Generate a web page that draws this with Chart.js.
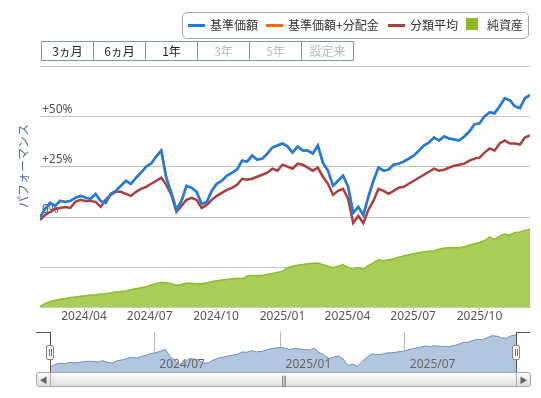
<!DOCTYPE html>
<html lang="ja">
<head>
  <meta charset="UTF-8" />
  <title>パフォーマンス</title>
  <script src="https://cdn.jsdelivr.net/npm/chart.js@4.4.1/dist/chart.umd.min.js"></script>
  <style>
    body { margin:0; background:#fff; width:541px; height:398px; overflow:hidden; position:relative;
           font-family:"Noto Sans CJK JP","Noto Sans",sans-serif; }
    canvas { position:absolute; left:0; }
    #main { top:0; }
    #nav { top:332px; }
    .legend { position:absolute; left:182px; top:12px; width:345px; height:25px; border:1px solid #a8a8a8; border-radius:5px; }
    .lg { position:absolute; top:18px; font-size:12px; line-height:14px; color:#333; white-space:nowrap; }
    .sym { position:absolute; top:24px; width:17px; height:2.5px; }
    .btns { position:absolute; left:41px; top:41px; display:flex; }
    .btns div { width:51px; height:18px; line-height:18px; border:1px solid #8494b0; border-left:none; text-align:center;
                font-size:12px; color:#222; background:#fff; }
    .btns div:first-child { border-left:1px solid #8494b0; }
    .btns div.off { color:#bbb; }
    .ln { position:absolute; background:#555; }
    .handle { position:absolute; top:345px; width:6px; height:13px; border:1px solid #888; border-radius:2px; background:#f4f4f4; }
    .handle i { position:absolute; top:3px; width:1px; height:7px; background:#777; }
    .sb { position:absolute; top:372px; height:13px; border:1px solid #aaa; background:linear-gradient(#fdfdfd,#dedede); }
    .sb span { position:absolute; top:0; width:100%; text-align:center; font-size:8px; line-height:13px; color:#666; }
  </style>
</head>
<body>
  <canvas id="main" width="541" height="330"></canvas>
  <canvas id="nav" width="541" height="40"></canvas>

  <div class="legend"></div>
  <div class="sym" style="left:188px;background:#1580ec"></div><div class="lg" style="left:210px">基準価額</div>
  <div class="sym" style="left:266px;background:#ff6a00"></div><div class="lg" style="left:288px">基準価額+分配金</div>
  <div class="sym" style="left:388px;background:#a8403e"></div><div class="lg" style="left:410px">分類平均</div>
  <div style="position:absolute;left:466px;top:18px;width:12px;height:12px;background:#8cb922"></div><div class="lg" style="left:487px">純資産</div>

  <div class="btns">
    <div>3ヵ月</div><div>6ヵ月</div><div>1年</div><div class="off">3年</div><div class="off">5年</div><div class="off">設定来</div>
  </div>

  <div class="ln" style="left:36px;top:332px;width:15px;height:1px"></div>
  <div class="ln" style="left:50px;top:332px;width:1px;height:40px"></div>
  <div class="ln" style="left:516px;top:332px;width:14px;height:1px"></div>
  <div class="ln" style="left:516px;top:332px;width:1px;height:40px"></div>
  <div class="handle" style="left:46px"><i style="left:2px"></i><i style="left:4px"></i></div>
  <div class="handle" style="left:512px"><i style="left:2px"></i><i style="left:4px"></i></div>

  <div class="sb" style="left:36px;width:13px;border-radius:3px 0 0 3px"><span>◀</span></div>
  <div class="sb" style="left:50px;width:465px"><span style="font-size:10px;letter-spacing:-1px">|||</span></div>
  <div class="sb" style="left:516px;width:13px;border-radius:0 3px 3px 0"><span>▶</span></div>

  <script>
    // weekly closes from 2024/01/31, % change vs start
    const startDate = Date.UTC(2024, 0, 31);
    const stepDays = 7;
    const lastDay = 679;

    const nav = [0, 4, 7, 5.5, 8, 7.5, 8, 9.5, 10.5, 9.6,
      9, 11.5, 8, 7, 11.5, 13, 15.5, 18, 16.5, 19.5,
      22, 25, 26.5, 30, 33, 19.5, 12, 3.5, 8, 15.5,
      14.5, 12.5, 6.5, 7.5, 13, 16.5, 18, 20.5, 22, 23.5,
      28, 27.5, 30.5, 28.5, 29, 31.5, 34.5, 35.5, 36.5, 35,
      32, 35, 33, 33, 31.5, 35.5, 27, 23, 15.5, 18,
      20.5, 15, 2, 5, 1, 10, 18, 24.5, 23, 23.5,
      26, 26.5, 27.5, 29, 30.5, 33, 35.5, 37, 39.5, 38,
      40, 39, 38.5, 38, 40, 42.5, 46, 46.5, 50, 52,
      51.5, 55, 59, 58, 55, 54, 59, 60.5];

    // no distributions paid, so same as nav
    const navWithDist = nav;

    const categoryAvg = [-1.5, 1, 2.5, 4, 4.5, 5, 4.5, 7.5, 8.5, 8,
      8, 7.5, 5, 8.5, 11, 12.5, 12.5, 11.5, 10.5, 12.5,
      14, 15, 16.5, 18, 19.5, 16, 11, 2.5, 5.5, 8.5,
      9.5, 8.5, 4.5, 6, 8.5, 10.5, 12, 13.5, 14.5, 16,
      19, 18.5, 19, 20, 21, 22, 24, 23, 26, 25,
      24, 26.5, 26, 24.5, 23, 24.5, 20, 16.5, 11, 13,
      14, 9, -3, 0.5, -3, 3.5, 8, 14, 13, 11.5,
      13, 14.5, 15, 16.5, 18, 19.5, 21, 22.5, 24, 23,
      23.5, 24.5, 25.5, 26, 26.5, 28, 29, 29.5, 32, 34,
      33, 36.5, 38, 36.5, 36.5, 36, 39.5, 40.5];

    // 億円
    const netAssets = [0.5, 2, 3, 3.7, 4.1, 4.5, 5, 5.3, 5.6, 5.9,
      6.2, 6.4, 6.7, 6.9, 7.3, 7.7, 8, 8.3, 8.9, 9.4,
      9.9, 10.4, 11.3, 12, 12.5, 12.3, 11.8, 11.1, 11.5, 12.2,
      12.1, 11.9, 11.9, 12.3, 12.8, 13.3, 13.7, 14, 14.3, 14.6,
      14.3, 15.7, 16, 16, 16, 16.5, 17, 17.5, 18, 19.8,
      20.5, 21, 21.4, 21.8, 22, 22.1, 21.3, 20.5, 19.8, 20.5,
      21.3, 20, 19, 20, 19, 20.8, 22.3, 23.8, 23.3, 23.8,
      24.3, 25, 25.7, 26.3, 26.8, 27.3, 27.7, 28, 28.3, 29,
      29.6, 29.7, 29.7, 29.7, 30.3, 31, 31.7, 32.3, 33.3, 35,
      33.9, 35.5, 36.6, 36.1, 37.3, 37.6, 38.3, 38.9];

    const xTickLabels = ['2024/04', '2024/07', '2024/10', '2025/01', '2025/04', '2025/07', '2025/10'];
    const navTickLabels = ['2024/07', '2025/01', '2025/07'];
    const yTicks = [-25, 0, 25, 50, 75];
    const yTickLabels = ['', '0%', '+25%', '+50%', ''];

    function dayOf(label) {
      const [y, m] = label.split('/').map(Number);
      return (Date.UTC(y, m - 1, 1) - startDate) / 86400000;
    }
    const pts = arr => arr.map((v, i) => ({ x: i * stepDays, y: v }));

    const yTitle = {
      id: 'yTitle',
      afterDraw(chart) {
        const c = chart.ctx;
        c.save();
        c.translate(23, 166);
        c.rotate(-Math.PI / 2);
        c.font = '12px "Noto Sans CJK JP"';
        c.fillStyle = '#4d6c9e';
        c.textAlign = 'center';
        c.textBaseline = 'middle';
        c.fillText('パフォーマンス', 0, 0);
        c.restore();
      }
    };

    new Chart(document.getElementById('main'), {
      type: 'line',
      data: {
        datasets: [
          { label: '基準価額', data: pts(nav), borderColor: '#1580ec', borderWidth: 2.5, pointRadius: 0, order: 1, yAxisID: 'y' },
          { label: '基準価額+分配金', data: pts(navWithDist), borderColor: '#ff6a00', borderWidth: 2.5, pointRadius: 0, order: 2, yAxisID: 'y' },
          { label: '分類平均', data: pts(categoryAvg), borderColor: '#a8403e', borderWidth: 2.5, pointRadius: 0, order: 3, yAxisID: 'y' },
          { label: '純資産', data: pts(netAssets), borderColor: '#8dbd2d', backgroundColor: '#a9cd57', borderWidth: 1.5,
            pointRadius: 0, fill: 'start', order: 4, yAxisID: 'y2' }
        ]
      },
      options: {
        responsive: false,
        animation: false,
        devicePixelRatio: 1,
        layout: { padding: { left: 36, right: 11, top: 66, bottom: 8 } },
        plugins: { legend: { display: false }, tooltip: { enabled: false } },
        scales: {
          x: {
            type: 'linear', min: 0, max: lastDay,
            afterBuildTicks: s => { s.ticks = xTickLabels.map(l => ({ value: dayOf(l) })); },
            ticks: { callback: (v, i) => xTickLabels[i], autoSkip: false, maxRotation: 0, padding: -2,
                     color: '#555', font: { family: 'Noto Sans', size: 12 } },
            grid: { drawOnChartArea: false, tickLength: 4, color: '#c0d0e0' },
            border: { color: '#c0d0e0' }
          },
          y: {
            min: -45, max: 75,
            afterBuildTicks: s => { s.ticks = yTicks.map(v => ({ value: v })); },
            ticks: { mirror: true, padding: 2, labelOffset: -7, callback: (v, i) => yTickLabels[i],
                     color: '#555', font: { family: 'Noto Sans', size: 12 } },
            grid: { color: '#c4c4c4', drawTicks: false },
            border: { display: false }
          },
          y2: { display: false, min: 0, max: 120 }
        }
      },
      plugins: [yTitle]
    });

    const navLabels = {
      id: 'navLabels',
      afterDraw(chart) {
        const c = chart.ctx, sx = chart.scales.x;
        c.save();
        c.font = '12px "Noto Sans"';
        c.fillStyle = '#666';
        sx.ticks.forEach((t, i) => c.fillText(navTickLabels[i], sx.getPixelForValue(t.value) + 5, chart.chartArea.bottom - 4));
        c.restore();
      }
    };

    new Chart(document.getElementById('nav'), {
      type: 'line',
      data: {
        datasets: [{ data: pts(nav), borderColor: '#6e8ec0', backgroundColor: '#b4c6df', borderWidth: 1, pointRadius: 0, fill: 'start' }]
      },
      options: {
        responsive: false,
        animation: false,
        devicePixelRatio: 1,
        layout: { padding: { left: 50, right: 25, top: 0, bottom: 0 } },
        plugins: { legend: { display: false }, tooltip: { enabled: false } },
        scales: {
          x: {
            type: 'linear', min: 0, max: lastDay, z: 1,
            afterBuildTicks: s => { s.ticks = navTickLabels.map(l => ({ value: dayOf(l) })); },
            ticks: { display: false },
            grid: { color: '#b8b8b8', drawTicks: false },
            border: { display: false }
          },
          y: { display: false, min: -10, max: 66 }
        }
      },
      plugins: [navLabels]
    });
  </script>
</body>
</html>
